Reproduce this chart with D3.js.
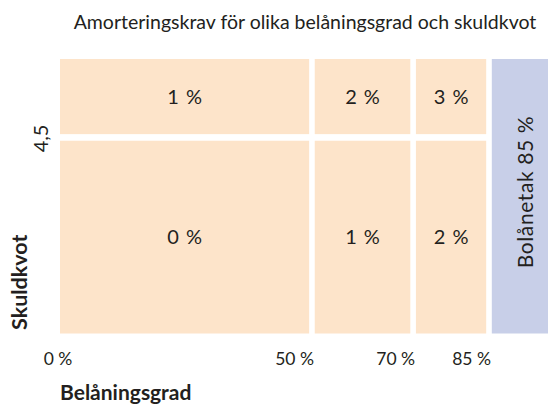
<!DOCTYPE html>
<html>
<head>
<meta charset="utf-8">
<script src="https://cdn.jsdelivr.net/npm/d3@7"></script>
<style>
  body { margin: 0; background: #fff; }
  svg text { font-family: "Gill Sans", Lato, "Open Sans", sans-serif; fill: #231f20; }
</style>
</head>
<body>
<div id="chart"></div>
<script>
// Data
const ltvBreaks = [0, 50, 70, 85];          // belåningsgrad (%)
const dtiBreaks = [0, 4.5, 6.3];            // skuldkvot
const amortBelow = [0, 1, 2];               // amortering (%) vid skuldkvot under 4,5
const amortAbove = [1, 2, 3];               // amortering (%) vid skuldkvot över 4,5
const xTickValues = [0, 50, 70, 85];
const xTickLabels = ["0 %", "50 %", "70 %", "85 %"];
const yTickValues = [4.5];
const yTickLabels = ["4,5"];
const capRange = [85, 100];
const capLabel = "Bolånetak 85 %";
const title = "Amorteringskrav för olika belåningsgrad och skuldkvot";
const xTitle = "Belåningsgrad";
const yTitle = "Skuldkvot";

const width = 548, height = 405;
const gap = 2.8;

let svg = d3.select("#chart")
  .append("svg")
  .attr("width", width)
  .attr("height", height)

let x = d3.scaleLinear()
  .domain([0, 85])
  .range([59, 489])

let y = d3.scaleLinear()
  .domain([dtiBreaks[0], dtiBreaks[dtiBreaks.length - 1]])
  .range([333.5, 59])

// build cells from breaks
let cells = [];
[amortBelow, amortAbove].forEach((row, r) => {
  row.forEach((v, c) => {
    cells.push({
      x0: ltvBreaks[c], x1: ltvBreaks[c + 1],
      y0: dtiBreaks[r], y1: dtiBreaks[r + 1],
      value: v
    })
  })
})

function cellX(d) { return x(d.x0) + (d.x0 > 0 ? gap : 1) }
function cellW(d) { return x(d.x1) - gap - cellX(d) }
function cellY(d) { return y(d.y1) + (d.y1 < dtiBreaks[dtiBreaks.length - 1] ? 3.3 : 0) }
function cellH(d) { return y(d.y0) - (d.y0 > 0 ? 3.3 : 0) - cellY(d) }

svg.selectAll("rect.cell")
  .data(cells)
  .enter()
  .append("rect")
  .attr("class", "cell")
  .attr("x", cellX)
  .attr("y", cellY)
  .attr("width", cellW)
  .attr("height", cellH)
  .style("fill", "#fde4ca")

svg.selectAll("text.cell-label")
  .data(cells)
  .enter()
  .append("text")
  .attr("class", "cell-label")
  .attr("x", d => cellX(d) + cellW(d) / 2)
  .attr("y", d => cellY(d) + cellH(d) / 2)
  .attr("dy", "0.36em")
  .style("text-anchor", "middle")
  .style("font-size", "20px")
  .style("word-spacing", "2px")
  .text(d => d.value + " %")

// Bolånetak band
svg.append("rect")
  .attr("x", x(capRange[0]) + gap)
  .attr("y", y(dtiBreaks[dtiBreaks.length - 1]))
  .attr("width", x(capRange[1]) - x(capRange[0]) - gap)
  .attr("height", y(0) - y(dtiBreaks[dtiBreaks.length - 1]))
  .style("fill", "#c8cfe8")

svg.append("text")
  .attr("transform", "translate(" + ((x(capRange[0]) + x(capRange[1])) / 2 + 6) + "," + 192 + ") rotate(-90)")
  .style("text-anchor", "middle")
  .style("font-size", "21px")
  .style("letter-spacing", "0.6px")
  .text(capLabel)

// Title
svg.append("text")
  .attr("x", 305)
  .attr("y", 29)
  .style("text-anchor", "middle")
  .style("font-size", "19.5px")
  .text(title)

// x tick labels
svg.selectAll("text.xtick")
  .data(xTickValues)
  .enter()
  .append("text")
  .attr("class", "xtick")
  .attr("x", d => d === 0 ? x(d) - 1 : x(d) + 2)
  .attr("y", 365)
  .style("text-anchor", d => d === 0 ? "middle" : "end")
  .style("font-size", "17.5px")
  .text((d, i) => xTickLabels[i])

svg.append("text")
  .attr("x", 60)
  .attr("y", 400)
  .style("font-size", "21px")
  .style("font-weight", "bold")
  .text(xTitle)

// y tick labels
svg.selectAll("text.ytick")
  .data(yTickValues)
  .enter()
  .append("text")
  .attr("class", "ytick")
  .attr("transform", d => "translate(48," + (y(d) + 1) + ") rotate(-90)")
  .style("text-anchor", "middle")
  .style("font-size", "20px")
  .text((d, i) => yTickLabels[i])

svg.append("text")
  .attr("transform", "translate(27,330) rotate(-90)")
  .style("text-anchor", "start")
  .style("font-size", "21.5px")
  .style("font-weight", "bold")
  .text(yTitle)
</script>
</body>
</html>
